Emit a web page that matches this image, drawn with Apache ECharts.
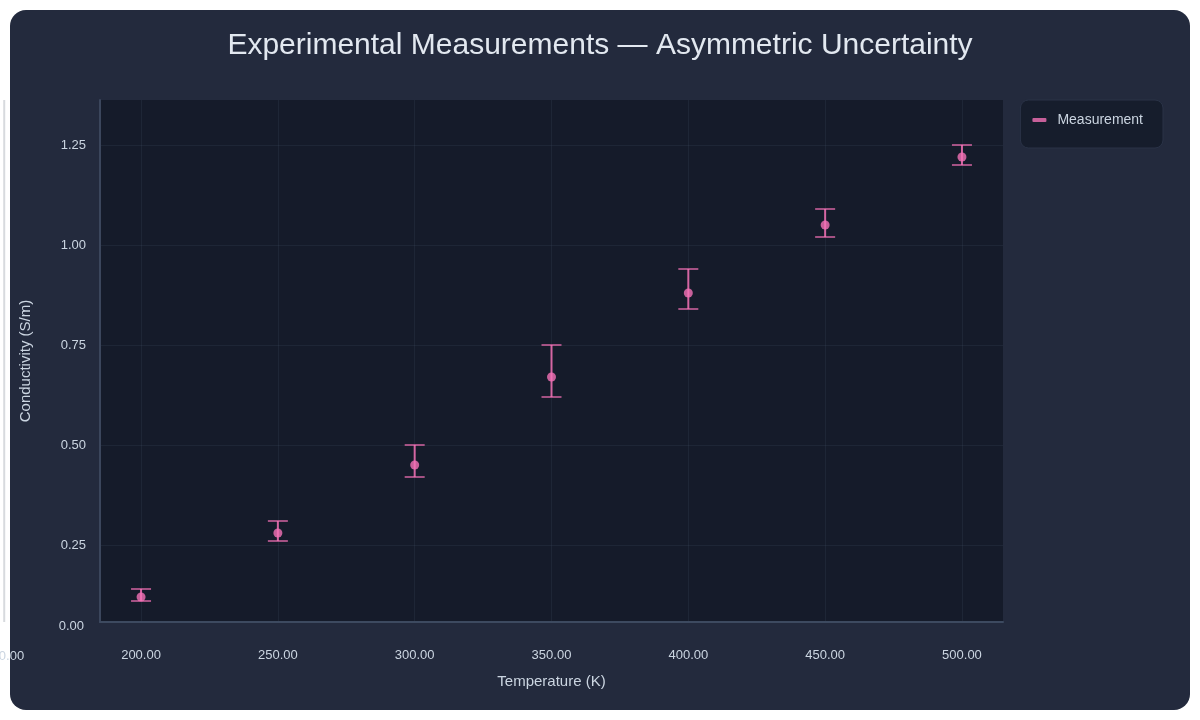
<!DOCTYPE html>
<html>
<head>
<meta charset="utf-8">
<script src="https://cdn.jsdelivr.net/npm/echarts@6/dist/echarts.min.js"></script>
<style>
  html, body { margin: 0; padding: 0; background: #ffffff; width: 1200px; height: 720px; overflow: hidden; }
  #card { position: absolute; left: 10px; top: 10px; width: 1180px; height: 700px; background: #232a3d; border-radius: 16px; }
  #chart { position: absolute; left: 0; top: 0; width: 1200px; height: 720px; }
</style>
</head>
<body>
<div id="card"></div>
<div id="chart"></div>
<script>
// ---- data ----
const temperatures = [200, 250, 300, 350, 400, 450, 500];
const conductivity = [0.12, 0.28, 0.45, 0.67, 0.88, 1.05, 1.22];
const upperBound   = [0.14, 0.31, 0.50, 0.75, 0.94, 1.09, 1.25];
const lowerBound   = [0.11, 0.26, 0.42, 0.62, 0.84, 1.02, 1.20];

// tick values shown on the axes
const xTicks = [200, 250, 300, 350, 400, 450, 500];
const yTicks = [0.25, 0.50, 0.75, 1.00, 1.25];
const xOuterTick = 150;   // label drawn left of the plot area
const yBottomLabel = 0;   // label drawn at the bottom of the value axis

const FONT = 'Liberation Sans, Arial, Helvetica, sans-serif';
const PINK = '#f472b6';
const LABEL = '#cbd5e1';
const SPLIT = 'rgba(71,85,105,0.2)';

const X_MIN = 185, X_MAX = 515;
const Y_MIN = 0.0575, Y_MAX = 1.3625;

const pointData = temperatures.map((t, i) => [t, conductivity[i]]);
const errorData = temperatures.map((t, i) => [t, lowerBound[i], upperBound[i]]);

const chart = echarts.init(document.getElementById('chart'), null, { renderer: 'canvas' });

chart.setOption({
  backgroundColor: 'transparent',
  animation: false,
  textStyle: { fontFamily: FONT },
  title: {
    text: 'Experimental Measurements — Asymmetric Uncertainty',
    left: 'center',
    top: 26,
    textStyle: { color: '#e2e8f0', fontSize: 30, fontWeight: 'normal', fontFamily: FONT }
  },
  legend: {
    right: 37,
    top: 100,
    orient: 'vertical',
    padding: [13, 20, 21, 12],
    backgroundColor: '#161d2c',
    borderColor: '#2a3347',
    borderWidth: 1,
    borderRadius: 8,
    itemWidth: 14,
    itemHeight: 4,
    icon: 'roundRect',
    textStyle: { color: LABEL, fontSize: 14, fontFamily: FONT, padding: [0, 0, 0, 6] },
    data: ['Measurement']
  },
  grid: {
    left: 100,
    right: 197,
    top: 100,
    bottom: 98,
    show: true,
    backgroundColor: '#151b2a',
    borderColor: 'transparent',
    borderWidth: 0
  },
  xAxis: {
    type: 'value',
    min: X_MIN,
    max: X_MAX,
    name: 'Temperature (K)',
    nameLocation: 'middle',
    nameGap: 52,
    nameTextStyle: { color: LABEL, fontSize: 15, fontFamily: FONT },
    axisLine: { show: true, lineStyle: { color: '#3d4a60', width: 2 } },
    axisTick: { show: false, customValues: xTicks },
    axisLabel: { color: LABEL, fontSize: 13, margin: 27, fontFamily: FONT, customValues: xTicks, formatter: v => v.toFixed(2) },
    splitLine: { show: true, lineStyle: { color: SPLIT, width: 1 } }
  },
  yAxis: {
    type: 'value',
    min: Y_MIN,
    max: Y_MAX,
    name: 'Conductivity (S/m)',
    nameLocation: 'middle',
    nameGap: 67,
    nameTextStyle: { color: LABEL, fontSize: 15, fontFamily: FONT },
    axisLine: { show: true, lineStyle: { color: '#3b465c', width: 2 } },
    axisTick: { show: false, customValues: yTicks },
    axisLabel: { color: LABEL, fontSize: 13, margin: 14, fontFamily: FONT, customValues: yTicks, formatter: v => v.toFixed(2) },
    splitLine: { show: true, lineStyle: { color: SPLIT, width: 1 } }
  },
  series: [
    {
      name: 'Error',
      type: 'custom',
      data: errorData,
      z: 2,
      silent: true,
      renderItem: function (params, api) {
        const x = api.value(0);
        const lo = api.coord([x, api.value(1)]);
        const hi = api.coord([x, api.value(2)]);
        const half = 10;
        const style = { stroke: 'rgba(244,114,182,0.85)', lineWidth: 1.5 };
        return {
          type: 'group',
          children: [
            { type: 'line', shape: { x1: lo[0], y1: lo[1], x2: hi[0], y2: hi[1] }, style: { stroke: 'rgba(244,114,182,0.85)', lineWidth: 2 } },
            { type: 'line', shape: { x1: hi[0] - half, y1: hi[1], x2: hi[0] + half, y2: hi[1] }, style: style },
            { type: 'line', shape: { x1: lo[0] - half, y1: lo[1], x2: lo[0] + half, y2: lo[1] }, style: style }
          ]
        };
      }
    },
    {
      name: 'Measurement',
      type: 'scatter',
      data: pointData,
      symbol: 'circle',
      symbolSize: 9,
      z: 3,
      itemStyle: { color: PINK }
    }
  ]
});

// extra axis marks outside the plot area, positioned through the axes' own scales
const pOuter = chart.convertToPixel({ xAxisIndex: 0, yAxisIndex: 0 }, [xOuterTick, Y_MAX]);
const pLow = chart.convertToPixel({ xAxisIndex: 0, yAxisIndex: 0 }, [X_MIN, Y_MIN]);
const xLabelY = pLow[1] + 2 + 27 + 5;
chart.setOption({
  graphic: [
    {
      type: 'line',
      silent: true,
      z: 0,
      shape: { x1: pOuter[0], y1: pOuter[1], x2: pOuter[0], y2: pLow[1] },
      style: { stroke: 'rgba(71,85,105,0.22)', lineWidth: 2 }
    },
    {
      type: 'text',
      silent: true,
      x: pOuter[0],
      y: xLabelY,
      style: { text: xOuterTick.toFixed(2), fill: LABEL, font: '13px ' + FONT, align: 'center', verticalAlign: 'middle' }
    },
    {
      type: 'text',
      silent: true,
      x: pLow[0] - 16,
      y: pLow[1] + 4,
      style: { text: yBottomLabel.toFixed(2), fill: LABEL, font: '13px ' + FONT, align: 'right', verticalAlign: 'middle' }
    }
  ]
});
</script>
</body>
</html>
